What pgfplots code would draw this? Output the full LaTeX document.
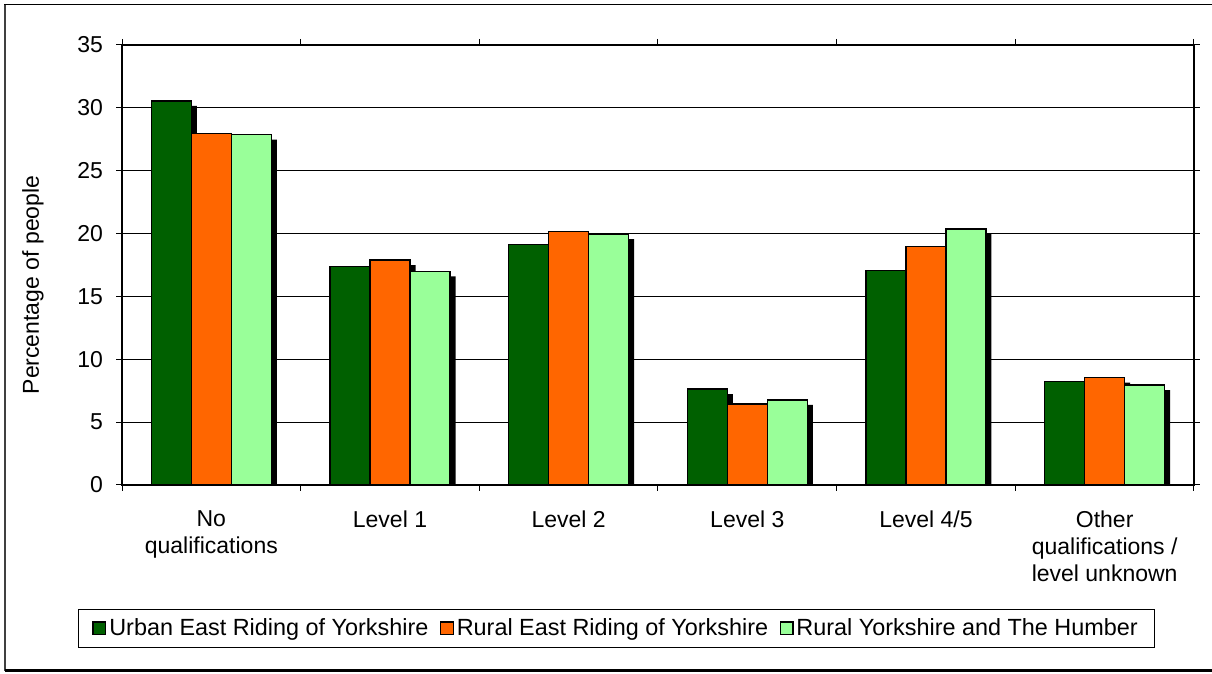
\documentclass[border=0pt]{standalone}
\usepackage{fontspec}
\setmainfont{Liberation Sans}
\usepackage{pgfplots}
\usepackage{pgfplotstable}
\pgfplotsset{compat=1.18}
\definecolor{dkg}{RGB}{0,96,0}
\definecolor{org}{RGB}{255,102,0}
\definecolor{ltg}{RGB}{153,255,153}
\pgfplotstableread{
x u r y
0 30.55 27.95 27.88
1 17.40 17.88 17.00
2 19.15 20.18 19.95
3 7.62 6.43 6.78
4 17.08 18.98 20.35
5 8.25 8.55 7.95
}\qual
\newcommand{\lfont}{\fontsize{11.5}{13.5}\selectfont}
\newcommand{\gfont}{\fontsize{11.7}{13.5}\selectfont}
\begin{document}
\begin{tikzpicture}
\useasboundingbox (0pt,0pt) rectangle (606pt,337pt);
\draw[line width=0.75pt, black!75] (2.5pt,1.5pt) -- (2.5pt,334.75pt);
\draw[line width=0.75pt, black] (2.1pt,334.75pt) -- (606pt,334.75pt);
\draw[line width=1.5pt, black] (2.5pt,1.5pt) -- (606pt,1.5pt);
\begin{axis}[
  at={(61pt,94.5pt)}, anchor=south west,
  scale only axis, width=536pt, height=220pt,
  xmin=-0.5, xmax=5.5, ymin=0, ymax=35,
  ytick={0,5,...,35},
  xtick={0,...,5},
  xticklabels={No\\qualifications, Level 1, Level 2, Level 3, Level 4/5, Other\\qualifications /\\level unknown},
  minor xtick={-0.5,0.5,1.5,2.5,3.5,4.5,5.5},
  major x tick style={draw=none},
  minor x tick style={black, line width=0.5pt},
  y tick style={black, line width=0.5pt},
  tick align=outside,
  major tick length=3pt, minor tick length=3pt,
  ymajorgrids, grid style={black, line width=0.5pt},
  axis line style={line width=1pt},
  /pgf/number format/assume math mode=true,
  ticklabel style={font=\lfont},
  xticklabel style={align=center, yshift=-6.5pt},
  yticklabel style={xshift=-3pt},
  legend columns=3,
  legend style={at={(0.4613,-0.326)}, anchor=center, draw=black, line width=0.5pt,
    font=\gfont, nodes={inner xsep=1.5pt, inner ysep=2pt},
    inner xsep=7pt, inner ysep=2.5pt,
    /tikz/every even column/.append style={column sep=4.2pt}},
  sq/.style={legend image code/.code={\draw[##1, line width=0.6pt] (0pt,-3.2pt) rectangle (6.4pt,3.2pt);}},
]
\addplot[ybar, bar width=20pt, bar shift=-17.25pt, fill=black, draw=none, forget plot] table[x=x, y expr=\thisrow{u}-0.4]{\qual};
\addplot[ybar, bar width=20pt, bar shift=2.75pt, fill=black, draw=none, forget plot] table[x=x, y expr=\thisrow{r}-0.4]{\qual};
\addplot[ybar, bar width=20pt, bar shift=22.75pt, fill=black, draw=none, forget plot] table[x=x, y expr=\thisrow{y}-0.4]{\qual};
\addplot[ybar, bar width=20pt, bar shift=-20pt, fill=dkg, draw=black, line width=0.75pt, sq] table[x=x, y=u]{\qual};
\addplot[ybar, bar width=20pt, bar shift=0pt, fill=org, draw=black, line width=0.75pt, sq] table[x=x, y=r]{\qual};
\addplot[ybar, bar width=20pt, bar shift=20pt, fill=ltg, draw=black, line width=0.75pt, sq] table[x=x, y=y]{\qual};
\legend{Urban East Riding of Yorkshire, Rural East Riding of Yorkshire, Rural Yorkshire and The Humber}
\end{axis}
\node[rotate=90, font=\lfont] at (16.5pt,194.5pt) {Percentage of people};
\end{tikzpicture}
\end{document}
